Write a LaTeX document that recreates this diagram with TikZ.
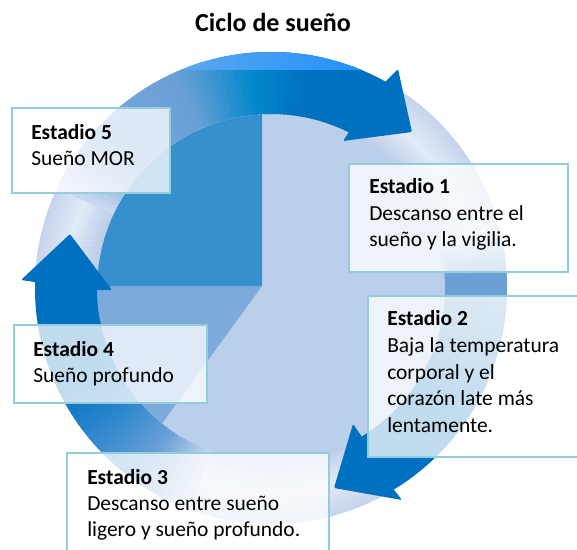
\documentclass[tikz,border=0pt]{standalone}
\usepackage{fontspec}
\setmainfont{Carlito}
\usetikzlibrary{fit}
\definecolor{arrowdark}{RGB}{0,112,192}
\definecolor{arrowcyan}{RGB}{0,136,204}
\definecolor{arrowsoft}{RGB}{106,160,214}
\definecolor{arrowpale}{RGB}{122,168,218}
\definecolor{leftmid}{RGB}{47,136,206}
\definecolor{ringavg}{RGB}{205,218,240}
\definecolor{ringin}{RGB}{190,207,234}
\definecolor{ringmid}{RGB}{226,234,246}
\definecolor{ringout}{RGB}{198,212,237}
\definecolor{piedark}{RGB}{54,144,206}
\definecolor{piemid}{RGB}{123,170,219}
\definecolor{pielight}{RGB}{185,207,234}
\definecolor{boxline}{RGB}{146,205,220}
\definecolor{crestL}{RGB}{95,168,236}
\definecolor{crestR}{RGB}{30,144,255}
\def\Rout{236}
\def\Rin{174}
\newcommand\bandseg[5]{%
 \foreach \i in {1,...,#5}{%
   \pgfmathsetmacro\segA{(#1)+((#2)-(#1))*(\i-1)/#5}%
   \pgfmathsetmacro\segB{(#1)+((#2)-(#1))*(\i)/#5+0.6*sign((#2)-(#1))}%
   \pgfmathtruncatemacro\segP{round(100*(\i-0.5)/#5)}%
   \fill[#4!\segP!#3] (\segA:\Rout) arc[start angle=\segA, end angle=\segB, radius=\Rout] -- (\segB:\Rin) arc[start angle=\segB, end angle=\segA, radius=\Rin] -- cycle;
 }}
\begin{document}
\begin{tikzpicture}[x=0.75pt,y=-0.75pt,
  box/.style={draw=boxline, line width=1.5pt, fill=white, fill opacity=0.76, inner sep=0pt},
  txt/.style={anchor=base west, inner sep=0pt, font=\fontsize{16.1}{19.3}\selectfont},
  hd/.style={txt, font=\fontsize{16.1}{19.3}\selectfont\bfseries},
  headshape/.style={fill=arrowdark, rounded corners=1pt}]
\clip (0,0) rectangle (577,549);
\fill[white] (0,0) rectangle (577,549);
% pie
\begin{scope}[shift={(262,286)}]
 \fill[pielight] (0,0) -- (-90:185) arc[start angle=-90, end angle=126, radius=185] -- cycle;
 \fill[piemid] (0,0) -- (126:185) arc[start angle=126, end angle=180, radius=185] -- cycle;
 \fill[piedark] (0,0) -- (180:185) arc[start angle=180, end angle=270, radius=185] -- cycle;
\end{scope}
% ring base and arrow bodies
\begin{scope}[shift={(271,288)}]
 \foreach \k in {0,...,30}{%
   \pgfmathsetmacro\ringR{175+2*\k}%
   \ifnum\k<16
     \pgfmathtruncatemacro\ringP{round(100*\k/15)}%
     \draw[line width=1.7pt, ringmid!\ringP!ringin] (0,0) circle[radius=\ringR];
   \else
     \pgfmathtruncatemacro\ringP{round(100*(\k-15)/15)}%
     \draw[line width=1.7pt, ringout!\ringP!ringmid] (0,0) circle[radius=\ringR];
   \fi
 }
 % top arrow body
 \bandseg{-155}{-140}{ringavg}{arrowpale}{10}
 \bandseg{-140}{-114}{arrowpale}{arrowsoft}{12}
 \bandseg{-114}{-95}{arrowsoft}{arrowcyan}{12}
 \bandseg{-95}{-80}{arrowcyan}{arrowdark}{10}
 \bandseg{-80}{-60}{arrowdark}{arrowdark}{2}
 % left arrow body
 \bandseg{110}{125}{ringavg}{arrowsoft}{10}
 \bandseg{125}{140}{arrowsoft}{leftmid}{10}
 \bandseg{140}{155}{leftmid}{arrowdark}{10}
 \bandseg{155}{181.5}{arrowdark}{arrowdark}{2}
 % bottom arrow body
 \bandseg{-14}{-4}{ringavg}{arrowsoft}{8}
 \bandseg{-4}{4}{arrowsoft}{arrowsoft}{1}
 \bandseg{4}{35}{arrowsoft}{arrowdark}{14}
 \bandseg{35}{59}{arrowdark}{arrowdark}{2}
\end{scope}
% arrow heads
\fill[headshape] (385,82) -- (398,69) -- (412,132) -- (343,141) -- (349,132) -- cycle;
\fill[headshape] (35,282) -- (21,280) -- (70,234) -- (112,290) -- (97,290) -- cycle;
\fill[headshape] (362,437) -- (353,424) -- (334,488) -- (402,500) -- (394,490) -- cycle;
% bright crest above the top arrow
\begin{scope}
 \clip (271,288) circle[radius=236];
 \shade[left color=crestL, right color=crestR] (170,40) rectangle (372,70);
\end{scope}
% boxes
\node[box, fit={(12,108) (170,193)}] (b5) {};
\node[box, fit={(349,164) (568,272)}] (b1) {};
\node[box, fit={(368,296) (600,457)}] (b2) {};
\node[box, fit={(14,325) (207,403)}] (b4) {};
\node[box, fit={(67,453) (329,570)}] (b3) {};
% texts
\node[hd] (b5h) at (31,139) {Estadio 5};
\node[txt] (b5a) at (31,165) {Sueño MOR};
\node[hd] (b1h) at (369,193) {Estadio 1};
\node[txt] (b1a) at (369,220) {Descanso entre el};
\node[txt] (b1b) at (369,246) {sueño y la vigilia.};
\node[hd] (b2h) at (387,325) {Estadio 2};
\node[txt] (b2a) at (387,352) {Baja la temperatura};
\node[txt] (b2b) at (387,379) {corporal y el};
\node[txt] (b2c) at (387,405) {corazón late más};
\node[txt] (b2d) at (387,432) {lentamente.};
\node[hd] (b4h) at (33,356) {Estadio 4};
\node[txt] (b4a) at (33,382) {Sueño profundo};
\node[hd] (b3h) at (87,484) {Estadio 3};
\node[txt] (b3a) at (87,510) {Descanso entre sueño};
\node[txt] (b3b) at (87,536) {ligero y sueño profundo.};
% title
\node[anchor=base, inner sep=0pt, font=\fontsize{19.5}{23}\selectfont\bfseries] (title) at (273,31.5) {Ciclo de sueño};
\end{tikzpicture}
\end{document}
